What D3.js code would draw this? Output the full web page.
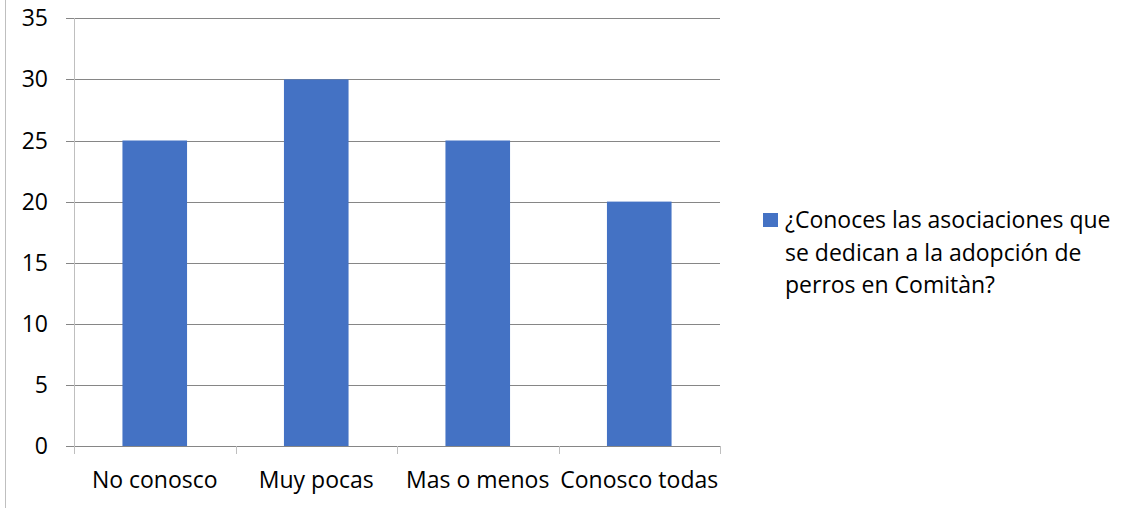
<!DOCTYPE html>
<html>
<head>
<meta charset="utf-8">
<script src="https://cdn.jsdelivr.net/npm/d3@7"></script>
<style>
  body { margin: 0; background: #fff; }
  text { font-family: "Open Sans", sans-serif; fill: #000; }
</style>
</head>
<body>
<div id="plot"></div>
<script>
// data
const categories = ["No conosco", "Muy pocas", "Mas o menos", "Conosco todas"];
const values = [25, 30, 25, 20];
const yTicks = [0, 5, 10, 15, 20, 25, 30, 35];
const legendLines = ["¿Conoces las asociaciones que", "se dedican a la adopción de", "perros en Comitàn?"];

const width = 1144, height = 508;
const plot = {left: 74, right: 720, top: 18.3, bottom: 446};
const fontSize = 23;

const svg = d3.select("#plot")
    .append("svg")
    .attr("width", width)
    .attr("height", height);

// outer frame line on the left
svg.append("line")
    .attr("x1", 5.5).attr("x2", 5.5)
    .attr("y1", 0).attr("y2", height)
    .attr("stroke", "#bfbfbf");

let x = d3.scaleBand()
    .domain(categories)
    .range([plot.left, plot.right])
    .paddingInner(0.6)
    .paddingOuter(0.3);

let y = d3.scaleLinear()
    .domain([0, 35])
    .range([plot.bottom, plot.top]);

// gridlines + y ticks
svg.append("g")
    .selectAll("line")
    .data(yTicks)
    .enter()
    .append("line")
    .attr("x1", plot.left - 8)
    .attr("x2", plot.right)
    .attr("y1", d => Math.round(y(d)) + 0.5)
    .attr("y2", d => Math.round(y(d)) + 0.5)
    .attr("stroke", "#868686");

// y axis line
svg.append("line")
    .attr("x1", plot.left + 0.5).attr("x2", plot.left + 0.5)
    .attr("y1", Math.round(plot.top))
    .attr("y2", plot.bottom + 8)
    .attr("stroke", "#bfbfbf");

// y tick labels
svg.append("g")
    .selectAll("text")
    .data(yTicks)
    .enter()
    .append("text")
    .attr("x", 48)
    .attr("y", d => y(d) + 8)
    .attr("text-anchor", "end")
    .attr("font-size", fontSize)
    .text(d => d);

// bars
svg.append("g")
    .selectAll("rect")
    .data(values)
    .enter()
    .append("rect")
    .attr("x", (d, i) => x(categories[i]))
    .attr("width", x.bandwidth())
    .attr("y", d => y(d))
    .attr("height", d => y(0) - y(d))
    .attr("fill", "#4472c4");

// zero line on top of bars
svg.append("line")
    .attr("x1", plot.left - 8).attr("x2", plot.right)
    .attr("y1", Math.round(y(0)) + 0.5).attr("y2", Math.round(y(0)) + 0.5)
    .attr("stroke", "#868686");

// x ticks at category boundaries
const step = x.step();
const bounds = d3.range(categories.length + 1).map(i => plot.left + i * step);
svg.append("g")
    .selectAll("line")
    .data(bounds)
    .enter()
    .append("line")
    .attr("x1", d => Math.round(d) + 0.5)
    .attr("x2", d => Math.round(d) + 0.5)
    .attr("y1", plot.bottom)
    .attr("y2", plot.bottom + 8)
    .attr("stroke", "#bfbfbf");

// x labels
svg.append("g")
    .selectAll("text")
    .data(categories)
    .enter()
    .append("text")
    .attr("x", d => x(d) + x.bandwidth() / 2)
    .attr("y", 488)
    .attr("text-anchor", "middle")
    .attr("font-size", fontSize)
    .text(d => d);

// legend
svg.append("rect")
    .attr("x", 763).attr("y", 213)
    .attr("width", 15).attr("height", 14)
    .attr("fill", "#4472c4");

svg.append("g")
    .selectAll("text")
    .data(legendLines)
    .enter()
    .append("text")
    .attr("x", 785)
    .attr("y", (d, i) => 228 + i * 32.5)
    .attr("font-size", fontSize)
    .text(d => d);
</script>
</body>
</html>
